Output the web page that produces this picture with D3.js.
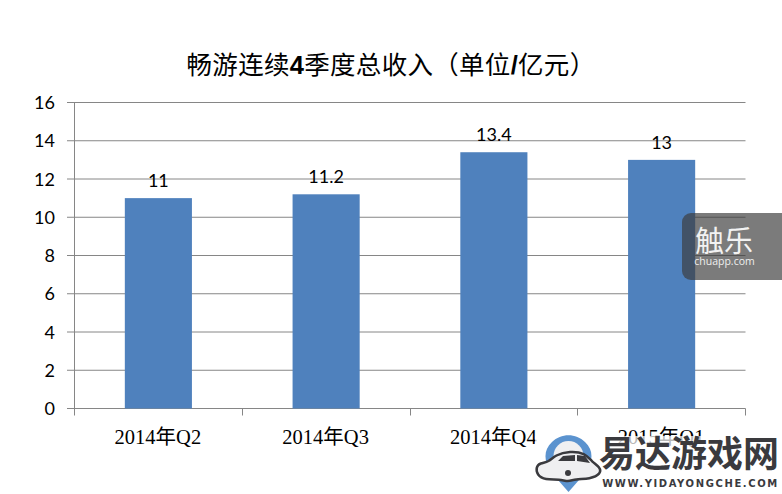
<!DOCTYPE html>
<html><head><meta charset="utf-8">
<script src="https://cdn.jsdelivr.net/npm/d3@7/dist/d3.min.js"></script>
<style>html,body{margin:0;padding:0;background:#fff}svg{display:block}</style>
</head><body><div id="c"></div>
<script>
const categories = ["2014年Q2","2014年Q3","2014年Q4","2015年Q1"];
const values = [11,11.2,13.4,13];
const yTicks = [0,2,4,6,8,10,12,14,16];
const titleParts = [["畅游连续",0],["4",1],["季度总收入（单位",0],["/",1],["亿元）",0]];

const W=782,H=494;
const svg=d3.select("#c").append("svg").attr("width",W).attr("height",H);
const x=d3.scaleBand().domain(categories).range([74.5,745.5]).paddingInner(0.6).paddingOuter(0.3);
const xOuter=d3.scaleBand().domain(categories).range([74.5,745.5]);
const y=d3.scaleLinear().domain([0,16]).range([408.5,102.5]);
const AXC="#868686";
const latin="Lato,'Noto Sans CJK SC',sans-serif";

svg.append("g").selectAll("line").data(yTicks).join("line")
  .attr("x1",67).attr("x2",745.5).attr("y1",d=>y(d)).attr("y2",d=>y(d)).attr("stroke",AXC).attr("stroke-width",1);
svg.append("line").attr("x1",74.5).attr("x2",74.5).attr("y1",102.5).attr("y2",408.5).attr("stroke",AXC);
svg.append("g").selectAll("line").data([...categories.map(c=>xOuter(c)),745.5]).join("line")
  .attr("x1",d=>Math.round(d-.5)+.5).attr("x2",d=>Math.round(d-.5)+.5).attr("y1",408.5).attr("y2",415.5).attr("stroke",AXC);

svg.append("g").selectAll("rect").data(values).join("rect")
  .attr("x",(d,i)=>x(categories[i])).attr("width",x.bandwidth())
  .attr("y",d=>y(d)).attr("height",d=>y(0)-y(d)).attr("fill","#4f81bd");

svg.append("g").selectAll("text").data(yTicks).join("text")
  .attr("x",55).attr("y",d=>y(d)+6.5).attr("text-anchor","end")
  .attr("font-family",latin).attr("font-size",18).attr("fill","#000").text(d=>d);
svg.append("g").selectAll("text").data(values).join("text")
  .attr("x",(d,i)=>x(categories[i])+x.bandwidth()/2).attr("y",d=>y(d)-11)
  .attr("text-anchor","middle").attr("font-family",latin).attr("font-size",18).attr("fill","#000").text(d=>d);
svg.append("g").selectAll("text").data(categories).join("text")
  .attr("x",c=>xOuter(c)+xOuter.bandwidth()/2-0.5).attr("y",444)
  .attr("text-anchor","middle").attr("font-family","'Liberation Serif','Noto Sans CJK SC',serif")
  .attr("font-size",20.5).attr("fill","#000").text(c=>c);
const tt=svg.append("text").attr("x",391).attr("y",74).attr("text-anchor","middle")
  .attr("font-family","'Noto Sans CJK SC',sans-serif").attr("font-size",25.5).attr("letter-spacing",0.3).attr("fill","#000");
tt.selectAll("tspan").data(titleParts).join("tspan")
  .attr("font-family",d=>d[1]?"'Liberation Sans',sans-serif":null)
  .attr("font-weight",d=>d[1]?700:400).text(d=>d[0]);

// chuapp watermark
const wm=svg.append("g");
wm.append("rect").attr("x",682).attr("y",213).attr("width",120).attr("height",67).attr("rx",9)
  .attr("fill","#3c3c3c").attr("fill-opacity",0.68);
wm.append("text").attr("x",724).attr("y",252).attr("text-anchor","middle")
  .attr("font-family","'Noto Sans CJK SC',sans-serif").attr("font-size",29).attr("fill","#f2f2f2").text("触乐");
wm.append("text").attr("x",724.5).attr("y",265).attr("text-anchor","middle")
  .attr("font-family","'Open Sans',sans-serif").attr("font-size",10.5).attr("fill","#eee").text("chuapp.com");

// yidayongche watermark
const lg=svg.append("g");
lg.append("rect").attr("x",535).attr("y",436).attr("width",247).attr("height",58).attr("fill","#fff").attr("fill-opacity",0.72);
lg.append("path").attr("d","M568.5 492 L551 472 C544 462 543 450 552 442 C561 433 576 433 585 442 C594 450 593 462 586 472 Z")
  .attr("fill","#5b93cf");
lg.append("circle").attr("cx",568.5).attr("cy",456).attr("r",15).attr("fill","#f0f0f2");
lg.append("path").attr("d",d3.line().curve(d3.curveBasisClosed)([[536,467],[540,463],[549,462],[555,455],[570,451],[585,453],[592,462],[600,467],[601,474],[590,479],[575,479],[568,482],[560,479],[545,480],[537,475]]))
  .attr("fill","#efeff1").attr("stroke","#3a3a3e").attr("stroke-width",2.5);
lg.append("path").attr("d","M558 461 L563 456 L575 455 L575 461 Z M577 455 L585 456 L590 463 L577 461 Z").attr("fill","#3a3a3e");
lg.append("circle").attr("cx",568).attr("cy",473).attr("r",3).attr("fill","#3a3a3e");
lg.append("text").attr("x",689).attr("y",467).attr("text-anchor","middle")
  .attr("font-family","'Noto Sans CJK SC',sans-serif").attr("font-weight",700).attr("font-size",36).attr("fill","#3a3a3e").text("易达游戏网");
lg.append("text").attr("x",690.5).attr("y",487).attr("text-anchor","middle")
  .attr("font-family","'DejaVu Sans',sans-serif").attr("font-weight",700).attr("font-size",10).attr("letter-spacing",1.6).attr("fill","#3a3a3e").text("WWW.YIDAYONGCHE.COM");
</script></body></html>
